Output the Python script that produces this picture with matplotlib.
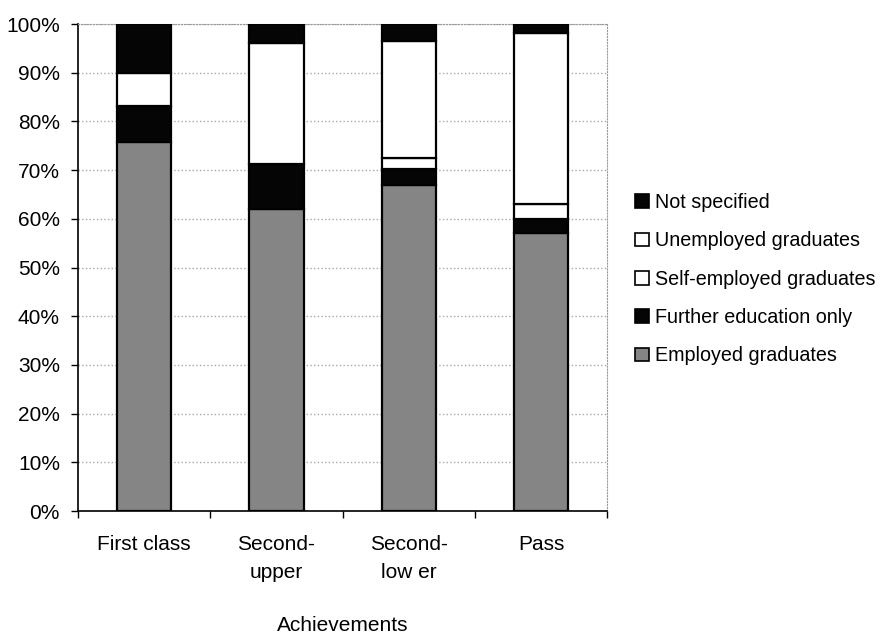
import numpy as np
import matplotlib
matplotlib.use("Agg")
import matplotlib.pyplot as plt
from matplotlib.patches import Patch

plt.rcParams['font.family'] = ['Liberation Sans', 'DejaVu Sans']

# Graduate destinations by degree classification (% of graduates)
achievements = ['First class', 'Second-\nupper', 'Second-\nlow er', 'Pass']
employed = [75.7, 62.1, 67.0, 57.0]
further_education = [7.5, 9.1, 3.3, 3.0]
self_employed = [0.0, 0.0, 2.1, 3.1]
unemployed = [6.8, 24.9, 24.2, 35.0]
not_specified = [10.0, 3.9, 3.4, 1.9]

series = [
    ('Employed graduates', employed, '#858585'),
    ('Further education only', further_education, '#050505'),
    ('Self-employed graduates', self_employed, 'white'),
    ('Unemployed graduates', unemployed, 'white'),
    ('Not specified', not_specified, '#050505'),
]

fs = 15

fig = plt.figure(figsize=(8.85, 6.36), dpi=100)
ax = fig.add_axes([0.0881, 0.1965, 0.598, 0.7657])

x = np.arange(len(achievements))
bottom = np.zeros(len(achievements))
for name, vals, col in series:
    vals = np.array(vals)
    ax.bar(x, vals, width=0.41, bottom=bottom, color=col,
           edgecolor='black', linewidth=1.6, label=name, zorder=3)
    bottom += vals

ax.set_xlim(-0.5, 3.5)
ax.set_ylim(0, 100)
ax.set_yticks(np.arange(0, 101, 10))
ax.set_yticklabels([f'{v}%' for v in range(0, 101, 10)])
ax.yaxis.grid(True, linestyle=':', color='#a8a8a8', linewidth=1, zorder=0)

ax.set_xticks(x)
ax.set_xticklabels(achievements, linespacing=1.6)
ax.set_xticks(np.arange(-0.5, 4, 1), minor=True)
ax.tick_params(axis='x', which='major', length=0, pad=17, labelsize=fs)
ax.tick_params(axis='x', which='minor', length=5, width=1, direction='out')
ax.tick_params(axis='y', length=5, width=1, pad=8, labelsize=fs)

for s in ['left', 'bottom']:
    ax.spines[s].set_linewidth(1.2)
for s in ['top', 'right']:
    ax.spines[s].set_linestyle(':')
    ax.spines[s].set_color('#9a9a9a')

ax.set_xlabel('Achievements', fontsize=fs)
ax.xaxis.set_label_coords(0.5, -0.215)

handles = [Patch(facecolor=col, edgecolor='black', linewidth=1.2, label=name)
           for name, vals, col in series][::-1]
fig.legend(handles=handles, loc='center left', bbox_to_anchor=(0.718, 0.561),
           frameon=False, fontsize=14.2, handlelength=0.7, handleheight=0.7,
           handletextpad=0.3, labelspacing=0.98, borderpad=0, borderaxespad=0)

fig.savefig('out.png', dpi=100, facecolor='white')
